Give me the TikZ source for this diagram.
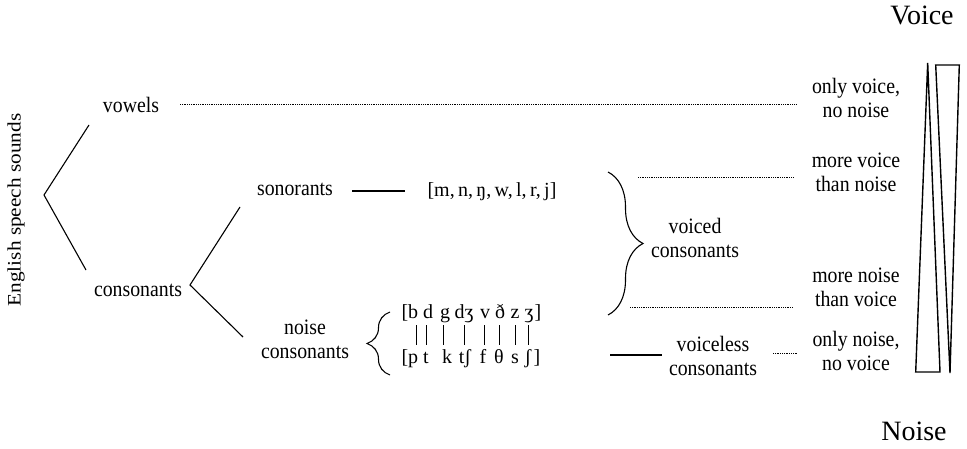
\documentclass[tikz,border=0pt]{standalone}
\usepackage{fontspec}
\setmainfont{Liberation Serif}
\newfontfamily\condfont[FakeStretch=0.9]{Liberation Serif}
\newfontfamily\widefont[FakeStretch=1.12]{Liberation Serif}
\usetikzlibrary{decorations.pathreplacing}
\begin{document}
\begin{tikzpicture}[x=1pt,y=-1pt,
  lbl/.style={font=\condfont\fontsize{22}{24}\selectfont, inner sep=0pt, align=center},
  ipa/.style={font=\fontsize{20}{22}\selectfont, inner sep=0pt, text height=14pt, text depth=4pt, anchor=base},
  big/.style={font=\fontsize{28}{30}\selectfont, inner sep=0pt, anchor=base},
  dotln/.style={line width=0.7pt, dash pattern=on 0.9pt off 0.9pt},
  solidln/.style={line width=1.1pt},
  bar/.style={line width=1pt},
  bracestyle/.style={line width=1.1pt, decorate}
]
\useasboundingbox (0,0) rectangle (967,449);

% title / axis labels
\node[font=\widefont\fontsize{19}{20}\selectfont, rotate=90, inner sep=0pt] (ess) at (16,210) {English speech sounds};
\node[big] (voice) at (922,25) {Voice};
\node[big] (noise) at (914,440) {Noise};

% tree nodes
\node[lbl, anchor=base] (vowels) at (131,113) {vowels};
\node[lbl, anchor=base] (cons) at (138,297) {consonants};
\node[lbl, anchor=base] (son) at (295,196) {sonorants};
\node[lbl] (noisecons) at (305,339) {noise\\consonants};
\node[font=\fontsize{20}{22}\selectfont, inner sep=0pt, anchor=base] (sonlist) at (492,197) {[m,\,n,\,ŋ,\,w,\,l,\,r,\,j]};

% tree lines
\coordinate (t1a) at (89,125);
\coordinate (t1v) at (44,195);
\coordinate (t1b) at (86,270);
\draw[solidln] (t1a) -- (t1v) -- (t1b);
\coordinate (t2a) at (240,207);
\coordinate (t2v) at (190,285);
\coordinate (t2b) at (243,337);
\draw[solidln] (t2a) -- (t2v) -- (t2b);

% sonorant dash
\coordinate (sd1) at (352,191);
\coordinate (sd2) at (405,191);
\draw[solidln] (sd1) -- (sd2);

% phoneme table
\node[ipa] (lb1) at (405,318) {[};
\node[ipa] (rb1) at (538,318) {]};
\node[ipa] (lb2) at (405,363) {[};
\node[ipa] (rb2) at (537,363) {]};
\foreach \i/\xa/\a/\xb/\b in {1/413/b/413/p, 2/428/d/426/t, 3/445/g/447/k, 4/464/dʒ/465/tʃ, 5/485/v/483/f, 6/500/ð/499/θ, 7/515/z/515/s, 8/529/ʒ/528/ʃ}{
  \node[ipa] (u\i) at (\xa,318) {\a};
  \node[ipa] (l\i) at (\xb,363) {\b};
}
\foreach \i/\x in {1/416, 2/426, 3/443, 4/464, 5/484, 6/499, 7/515, 8/528}{
  \coordinate (bt\i) at (\x,325);
  \coordinate (bb\i) at (\x,345);
  \draw[bar] (bt\i) -- (bb\i);
}

% brace before table
\coordinate (lbrb) at (390,375);
\coordinate (lbrt) at (390,312);
\draw[bracestyle, decoration={brace, amplitude=23pt}] (lbrb) -- (lbrt);

% voiced brace
\coordinate (vbt) at (608,172);
\coordinate (vbb) at (608,315);
\draw[bracestyle, decoration={brace, amplitude=35pt}] (vbt) -- (vbb);
\node[lbl] (voiced) at (695,238) {voiced\\consonants};

% voiceless
\coordinate (vl1) at (610,355);
\coordinate (vl2) at (662,355);
\draw[solidln] (vl1) -- (vl2);
\node[lbl] (voiceless) at (713,356) {voiceless\\consonants};

% right labels
\node[lbl] (r1) at (856,98) {only voice,\\no noise};
\node[lbl] (r2) at (856,172) {more voice\\than noise};
\node[lbl] (r3) at (856,287) {more noise\\than voice};
\node[lbl] (r4) at (856,351) {only noise,\\no voice};

% dotted lines
\coordinate (d1a) at (180,104);
\coordinate (d1b) at (796,104);
\draw[dotln] (d1a) -- (d1b);
\coordinate (d2a) at (638,177);
\coordinate (d2b) at (793,177);
\draw[dotln] (d2a) -- (d2b);
\coordinate (d3a) at (630,307);
\coordinate (d3b) at (793,307);
\draw[dotln] (d3a) -- (d3b);
\coordinate (d4a) at (773,353);
\coordinate (d4b) at (798,353);
\draw[dotln] (d4a) -- (d4b);

% triangles
\draw[line width=1.4pt, line join=miter] (927.7,63) -- (915.7,372) -- (940,372) -- cycle;
\draw[line width=1.4pt, line join=miter] (935.7,65) -- (959.3,65) -- (950,373) -- cycle;
\end{tikzpicture}
\end{document}
